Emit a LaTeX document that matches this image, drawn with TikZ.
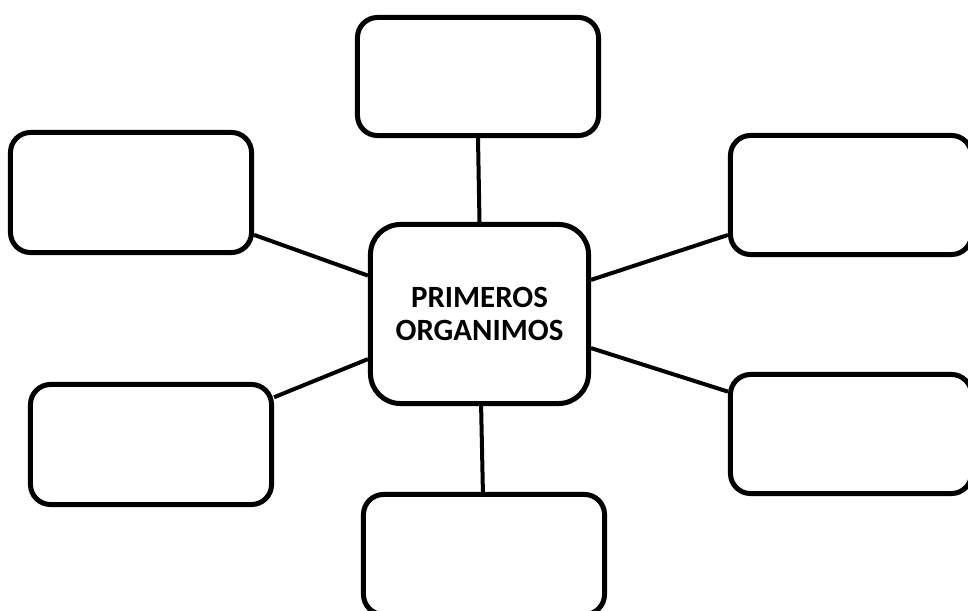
\documentclass[tikz,border=0pt]{standalone}
\usepackage{fontspec}
\setsansfont{Carlito}
\usepackage{tikz}

\begin{document}
\begin{tikzpicture}[x=0.025cm,y=-0.025cm,
  caja/.style={draw,line width=0.125cm,rounded corners=0.5cm,
    minimum width=6.025cm,minimum height=3cm,inner sep=0pt},
  tema/.style={draw,line width=0.125cm,rounded corners=0.75cm,
    minimum width=5.45cm,minimum height=4.475cm,align=center,
    font=\sffamily\bfseries\fontsize{22}{23.4}\selectfont},
  rama/.style={line width=0.1cm}]
\useasboundingbox (0,0) rectangle (968,611);
\clip (0,0) rectangle (968,611);
\node[tema] (centro) at (479.5,314) {PRIMEROS\\ORGANIMOS};
\node[caja,minimum height=2.95cm] (arriba) at (478,76.5) {};
\node[caja] (izqarriba) at (131,192.5) {};
\node[caja] (izqabajo) at (151,444.5) {};
\node[caja,minimum height=2.975cm] (derarriba) at (851,195) {};
\node[caja,minimum height=2.975cm] (derabajo) at (851,434) {};
\node[caja] (abajo) at (484,554.5) {};
\draw[rama]
(centro.north) -- (arriba.south)
(centro.-89) -- (abajo.91)
(centro.161.3) -- (izqarriba.-19.4)
(centro.-158.5) -- (izqabajo.21.5)
(centro.17.8) -- (derarriba.-162.4)
(centro.-17.8) -- (derabajo.161.9);
\end{tikzpicture}
\end{document}
